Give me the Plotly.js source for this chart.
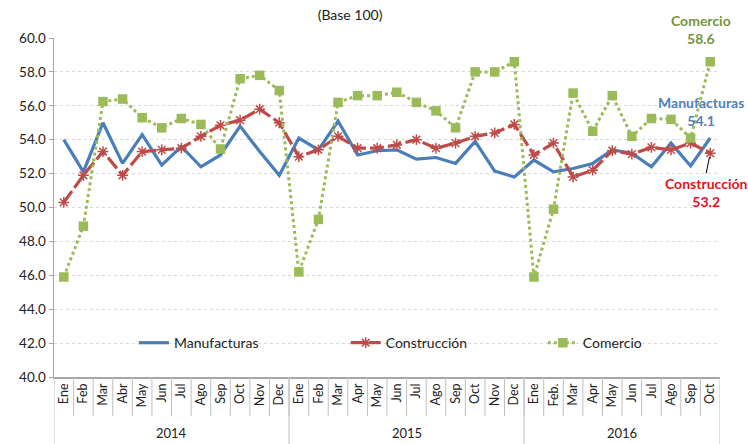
<!DOCTYPE html>
<html>
<head>
<meta charset="utf-8">
<script src="https://cdn.plot.ly/plotly-3.0.1.min.js"></script>
<style>html,body{margin:0;padding:0;background:#fff;}#chart{width:748px;height:444px;}</style>
</head>
<body>
<div id="chart"></div>
<script>
const years = ["2014","2015","2016"];
const months2014 = ["Ene","Feb","Mar","Abr","May","Jun","Jul","Ago","Sep","Oct","Nov","Dec"];
const months2015 = ["Ene","Feb","Mar","Apr","May","Jun","Jul","Ago","Sep","Oct","Nov","Dec"];
const months2016 = ["Ene","Feb.","Mar","Apr","May","Jun","Jul","Ago","Sep","Oct"];

const manufacturas = [54.0,52.1,55.0,52.6,54.3,52.5,53.6,52.4,53.1,54.8,53.3,51.9,
                      54.1,53.4,55.1,53.1,53.35,53.4,52.85,52.95,52.6,53.9,52.15,51.8,
                      52.8,52.1,52.3,52.6,53.4,53.2,52.4,53.8,52.45,54.1];
const construccion = [50.3,51.9,53.3,51.9,53.3,53.4,53.5,54.2,54.85,55.15,55.8,55.0,
                      53.0,53.4,54.2,53.5,53.5,53.7,54.0,53.5,53.8,54.2,54.4,54.9,
                      53.1,53.8,51.8,52.2,53.35,53.15,53.55,53.4,53.8,53.2];
const comercio = [45.9,48.9,56.25,56.4,55.3,54.7,55.25,54.9,53.45,57.6,57.8,56.9,
                  46.2,49.3,56.2,56.6,56.6,56.8,56.2,55.7,54.7,58.0,58.0,58.6,
                  45.9,49.9,56.75,54.5,56.6,54.2,55.25,55.2,54.1,58.6];

const monthGroups = [months2014, months2015, months2016];
const xMonths = [].concat(...monthGroups);
const x = xMonths.map((m, i) => i);
const n = xMonths.length;
const last = n - 1;

const font = "Lato, Open Sans, sans-serif";
const axisGray = "#a6a6a6";

// boundaries between categories and year groups
const shapes = [];
for (let i = 1; i < n; i++) {
  shapes.push({type:"line", xref:"x", yref:"paper", x0:i-0.5, x1:i-0.5, y0:0, y1:-0.115,
               line:{color:"#bfbfbf", width:1}});
}
const yearAnn = [];
let start = 0;
const bounds = [-0.5];
monthGroups.forEach((ms, gi) => {
  const end = start + ms.length;
  bounds.push(end - 0.5);
  yearAnn.push({x:(start + end - 1) / 2, y:-0.165, xref:"x", yref:"paper", text:years[gi],
                showarrow:false, yanchor:"middle", font:{family:font, size:13, color:"#222"}});
  start = end;
});
bounds.forEach(b => shapes.push({type:"line", xref:"x", yref:"paper", x0:b, x1:b, y0:0, y1:-0.2,
                                 line:{color:"#bfbfbf", width:1}}));

const traces = [
  {type:"scatter", mode:"lines", name:"Manufacturas", x:x, y:manufacturas, legend:"legend",
   line:{color:"#4a7ebb", width:3.2}},
  {type:"scatter", mode:"lines+markers", name:"Construcción", x:x, y:construccion, legend:"legend2",
   line:{color:"#be4b48", width:3.2, dash:"14px,4px"},
   marker:{symbol:"asterisk-open", size:9, color:"#be4b48", line:{color:"#be4b48", width:1.5}}},
  {type:"scatter", mode:"lines+markers", name:"Comercio", x:x, y:comercio, legend:"legend3",
   line:{color:"#9bbb59", width:3, dash:"dot"},
   marker:{symbol:"square", size:9.5, color:"#9bbb59"}}
];

const legendBase = {yanchor:"middle", xanchor:"left", y:0.1, bgcolor:"rgba(255,255,255,0)",
                    font:{family:font, size:14, color:"#222"}, orientation:"h"};

const layout = {
  width:748, height:444,
  margin:{l:54, r:28, t:38, b:67},
  paper_bgcolor:"#fff", plot_bgcolor:"#fff",
  font:{family:font, color:"#222", size:12},
  title:{text:"(Base 100)", x:0.468, xanchor:"center", y:0.965, yanchor:"middle",
         font:{family:font, size:14, color:"#222"}},
  showlegend:true,
  legend:Object.assign({}, legendBase, {x:0.12}),
  legend2:Object.assign({}, legendBase, {x:0.438}),
  legend3:Object.assign({}, legendBase, {x:0.734}),
  xaxis:{range:[-0.5, n - 0.5], tickmode:"array", tickvals:x, ticktext:xMonths, tickangle:-90,
         ticks:"", showline:true, linecolor:axisGray, linewidth:1.5, showgrid:false, zeroline:false,
         tickfont:{family:font, size:12.5, color:"#222"}},
  yaxis:{range:[40,60], dtick:2, tickformat:".1f", showline:true, linecolor:axisGray,
         linewidth:1.5, ticks:"outside", ticklen:4, tickcolor:axisGray,
         gridcolor:"#d9d9d9", griddash:"dot", zeroline:false,
         tickfont:{family:font, size:13.5, color:"#222"}},
  shapes:shapes,
  annotations:yearAnn.concat([
    {x:x[last], y:comercio[last], xref:"x", yref:"y", text:"<b>Comercio</b><br><b>58.6</b>",
     showarrow:false, yshift:32, xshift:-9, font:{family:font, size:14, color:"#77933c"}, align:"center"},
    {x:x[last], y:manufacturas[last], xref:"x", yref:"y", text:"<b>Manufacturas</b><br><b>54.1</b>",
     showarrow:false, yshift:27, xshift:-9, font:{family:font, size:14, color:"#4f81bd"}, align:"center"},
    {x:x[last], y:construccion[last], xref:"x", yref:"y", text:"<b>Construcción</b><br><b>53.2</b>",
     showarrow:true, arrowhead:0, arrowwidth:1, arrowcolor:"#000", ax:-4, ay:20, standoff:4,
     font:{family:font, size:14, color:"#e3121b"}, align:"center", yanchor:"top"}
  ])
};

Plotly.newPlot("chart", traces, layout, {displayModeBar:false, staticPlot:true});
</script>
</body>
</html>
